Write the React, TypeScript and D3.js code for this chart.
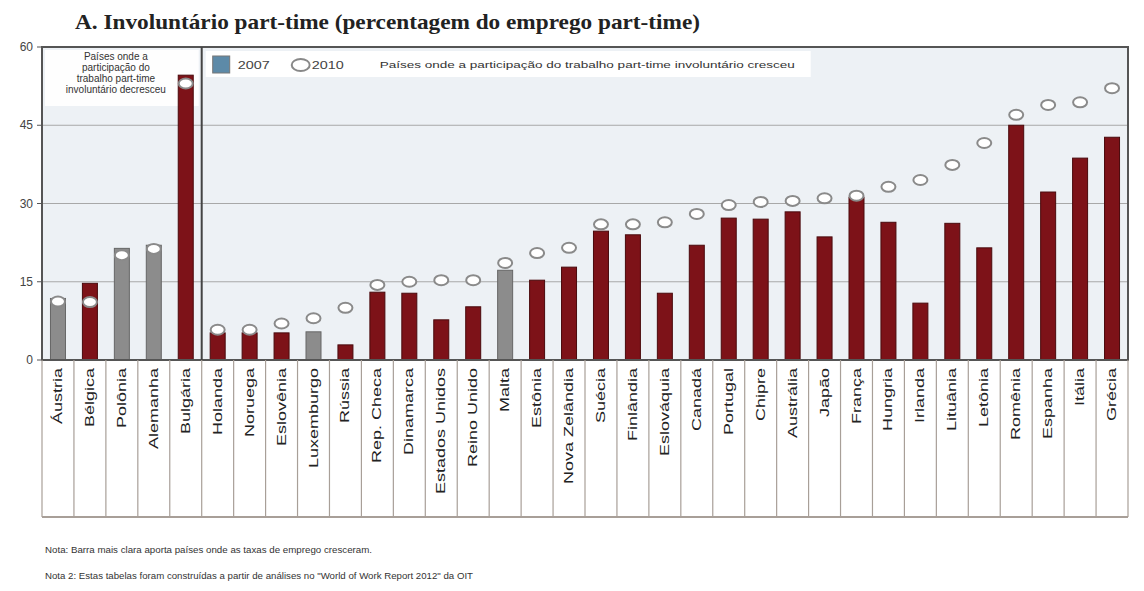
import React from "react";
import * as d3 from "d3";

const countries = ["Áustria","Bélgica","Polônia","Alemanha","Bulgária","Holanda","Noruega","Eslovênia","Luxemburgo","Rússia","Rep. Checa","Dinamarca","Estados Unidos","Reino Unido","Malta","Estônia","Nova Zelândia","Suécia","Finlândia","Eslováquia","Canadá","Portugal","Chipre","Austrália","Japão","França","Hungria","Irlanda","Lituânia","Letônia","Romênia","Espanha","Itália","Grécia"];
const values2007 = [11.8,14.7,21.4,22.0,54.6,5.2,5.2,5.2,5.4,2.9,13.0,12.8,7.7,10.2,17.2,15.3,17.8,24.7,24.0,12.8,22.0,27.2,27.0,28.4,23.6,31.2,26.4,10.9,26.2,21.5,45.0,32.2,38.7,42.7];
const values2010 = [11.2,11.1,20.1,21.3,53.0,5.8,5.8,7.0,8.0,10.0,14.4,15.0,15.3,15.3,18.6,20.5,21.5,26.0,26.0,26.4,28.0,29.7,30.3,30.5,31.0,31.5,33.2,34.5,37.4,41.6,47.0,48.9,49.4,52.1];
// lighter bar = employment rate grew
const lighter = ["Áustria","Polônia","Alemanha","Luxemburgo","Malta"];
const yTicks = [0,15,30,45,60];

const W = 1144, H = 591;
const left = 42, right = 1128, top = 47, zeroY = 360, labelBottom = 517;

export default function App() {
  const x = d3.scaleBand().domain(countries).range([left, right]).paddingInner(0).paddingOuter(0);
  const y = d3.scaleLinear().domain([0, 60]).range([zeroY, top]);
  const bw = 15;
  const dividerX = x(countries[5])!;
  return (
    <svg width={W} height={H} style={{ position: "absolute", left: 0, top: 0, background: "#fff" }} fontFamily="Liberation Sans, Arial, sans-serif">
      <text x={75} y={29} fontFamily="Liberation Serif, Times New Roman, serif" fontWeight="bold" fontSize={21} fill="#222" textLength={625} lengthAdjust="spacingAndGlyphs">A. Involuntário part-time (percentagem do emprego part-time)</text>
      <rect x={left} y={top} width={right - left} height={zeroY - top} fill="#edf1f5" />
      {yTicks.filter(t => t > 0 && t < 60).map(t => (
        <line key={t} x1={left} x2={right} y1={y(t)} y2={y(t)} stroke="#a8a8a8" strokeWidth={1} />
      ))}
      {yTicks.map(t => (
        <g key={"t" + t}>
          <line x1={left - 5} x2={left} y1={y(t)} y2={y(t)} stroke="#555" />
          <text x={left - 9} y={y(t) + 4} textAnchor="end" fontSize={12} fill="#444">{t}</text>
        </g>
      ))}
      {/* left panel note */}
      <rect x={left + 3} y={top + 3} width={dividerX - left - 6} height={56} fill="#fff" opacity={0.9} />
      {["Países onde a", "participação do", "trabalho part-time", "involuntário decresceu"].map((s, i) => (
        <text key={s} x={(left + dividerX) / 2 - 6} y={top + 13 + i * 11} textAnchor="middle" fontSize={10} fill="#333">{s}</text>
      ))}
      {/* legend */}
      <rect x={dividerX + 4} y={top + 4} width={605} height={26} fill="#fff" />
      <rect x={dividerX + 11} y={top + 9} width={17} height={17} fill="#5d8aa8" stroke="#777" />
      <text x={dividerX + 36} y={top + 22} fontSize={11} fill="#444" textLength={32} lengthAdjust="spacingAndGlyphs">2007</text>
      <ellipse cx={dividerX + 99} cy={top + 18} rx={9} ry={6} fill="#fff" stroke="#888" strokeWidth={2} />
      <text x={dividerX + 110} y={top + 22} fontSize={11} fill="#444" textLength={32} lengthAdjust="spacingAndGlyphs">2010</text>
      <text x={dividerX + 178} y={top + 21} fontSize={9.5} fill="#333" textLength={415} lengthAdjust="spacingAndGlyphs">Países onde a participação do trabalho part-time involuntário cresceu</text>
      {countries.map((c, i) => {
        const cx = x(c)! + x.bandwidth() / 2;
        const isLight = lighter.includes(c);
        return (
          <g key={c}>
            <rect x={cx - bw / 2} y={y(values2007[i])} width={bw} height={zeroY - y(values2007[i])}
              fill={isLight ? "#8c8c8c" : "#7d1218"} stroke={isLight ? "#666" : "#4a0a0d"} strokeWidth={1} />
          </g>
        );
      })}
      {countries.map((c, i) => {
        const cx = x(c)! + x.bandwidth() / 2;
        return <ellipse key={"e" + c} cx={cx} cy={y(values2010[i])} rx={7} ry={5} fill="#fff" stroke="#8a8a8a" strokeWidth={2} />;
      })}
      {/* frame */}
      <rect x={left} y={top} width={right - left} height={zeroY - top} fill="none" stroke="#555" strokeWidth={2} />
      <line x1={dividerX} x2={dividerX} y1={top} y2={zeroY} stroke="#444" strokeWidth={2} />
      {/* label area */}
      {countries.map(c => (
        <line key={"v" + c} x1={x(c)!} x2={x(c)!} y1={zeroY} y2={labelBottom} stroke="#a89f98" strokeWidth={1.2} />
      ))}
      <line x1={right} x2={right} y1={zeroY} y2={labelBottom} stroke="#a89f98" strokeWidth={1.2} />
      <line x1={left} x2={right} y1={labelBottom} y2={labelBottom} stroke="#a89f98" strokeWidth={2} />
      {countries.map(c => {
        const cx = x(c)! + x.bandwidth() / 2;
        return (
          <text key={"l" + c} transform={`translate(${cx + 4},${zeroY + 8}) rotate(-90) scale(1.5,1)`} textAnchor="end" fontSize={12} fill="#222">{c}</text>
        );
      })}
      <text x={45} y={553} fontSize={9} fill="#333" textLength={327} lengthAdjust="spacingAndGlyphs">Nota: Barra mais clara aporta países onde as taxas de emprego cresceram.</text>
      <text x={45} y={579} fontSize={9} fill="#333" textLength={428} lengthAdjust="spacingAndGlyphs">Nota 2: Estas tabelas foram construídas a partir de análises no "World of Work Report 2012" da OIT</text>
    </svg>
  );
}
